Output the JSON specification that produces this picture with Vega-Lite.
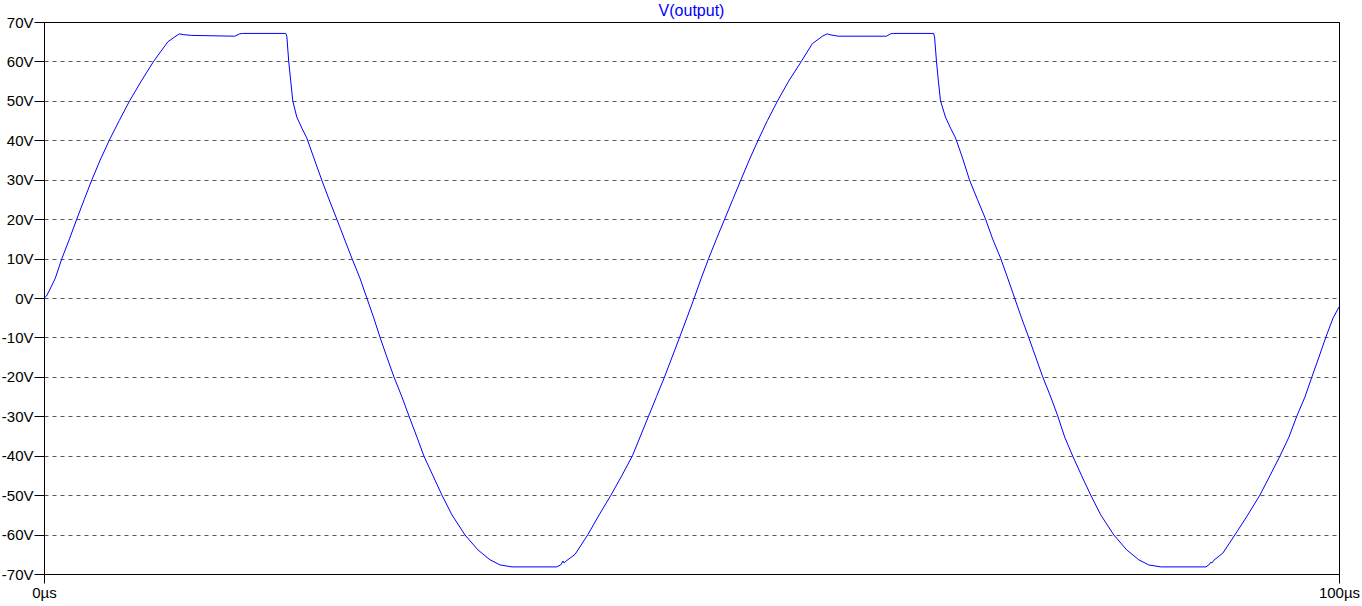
{
  "$schema": "https://vega.github.io/schema/vega-lite/v6.json",
  "autosize": "none",
  "width": 1295,
  "height": 552,
  "padding": {"left": 44, "top": 22, "right": 23, "bottom": 32},
  "background": "white",
  "title": {"text": "V(output)", "fontSize": 16, "font": "Liberation Sans", "fontWeight": "normal", "color": "#0000ff", "anchor": "middle", "offset": 5, "dy": 9},
  "config": {
    "view": {"stroke": "black", "strokeWidth": 1},
    "axis": {"labelFont": "Liberation Sans", "labelFontSize": 15, "labelColor": "black", "tickColor": "black", "domainColor": "black", "title": null}
  },
  "data": {"values": [
    {"t":0,"v":0},{"t":0.19,"v":0.5},{"t":0.43,"v":2.0},{"t":0.87,"v":5.0},{"t":1.38,"v":10.0},{"t":1.97,"v":15.0},{"t":2.53,"v":20.0},{"t":3.11,"v":25.0},{"t":3.70,"v":30.0},{"t":4.34,"v":35.0},{"t":5.04,"v":40.0},{"t":5.81,"v":45.0},{"t":6.61,"v":50.0},{"t":7.51,"v":55.0},{"t":8.46,"v":60.0},{"t":9.57,"v":65.0},{"t":10.09,"v":66.2},{"t":10.45,"v":67.0},{"t":10.75,"v":66.8},{"t":11.40,"v":66.6},{"t":14.73,"v":66.4},{"t":15.11,"v":67.0},{"t":15.34,"v":67.1},{"t":18.67,"v":67.1},{"t":18.75,"v":66.4},{"t":18.90,"v":59.9},{"t":19.06,"v":54.8},{"t":19.21,"v":50.0},{"t":19.52,"v":45.9},{"t":19.91,"v":43.1},{"t":20.29,"v":40.6},{"t":20.84,"v":35.5},{"t":21.45,"v":29.9},{"t":22.0,"v":25.1},{"t":22.61,"v":20.0},{"t":23.23,"v":14.7},{"t":23.77,"v":10.1},{"t":24.39,"v":5.1},{"t":24.93,"v":0},{"t":25.47,"v":-5.1},{"t":25.94,"v":-9.9},{"t":26.48,"v":-15.0},{"t":27.02,"v":-20.0},{"t":27.64,"v":-25.1},{"t":28.18,"v":-29.9},{"t":28.80,"v":-35.3},{"t":29.34,"v":-40.1},{"t":30.04,"v":-45.1},{"t":30.73,"v":-50.0},{"t":31.50,"v":-55.0},{"t":32.51,"v":-60.1},{"t":33.51,"v":-63.9},{"t":34.44,"v":-66.4},{"t":35.21,"v":-67.7},{"t":36.14,"v":-68.2},{"t":39.58,"v":-68.2},{"t":39.90,"v":-67.7},{"t":40.08,"v":-66.7},{"t":40.16,"v":-67.2},{"t":40.32,"v":-66.7},{"t":41.01,"v":-65.0},{"t":42.0,"v":-60.0},{"t":42.87,"v":-55.0},{"t":43.78,"v":-50.0},{"t":44.63,"v":-45.0},{"t":45.44,"v":-40.0},{"t":46.06,"v":-35.0},{"t":46.68,"v":-30.0},{"t":47.30,"v":-25.0},{"t":47.92,"v":-20.0},{"t":48.50,"v":-15.0},{"t":49.08,"v":-10.0},{"t":49.65,"v":-5.0},{"t":50.21,"v":0},{"t":50.75,"v":5.0},{"t":51.32,"v":10.0},{"t":51.93,"v":15.0},{"t":52.56,"v":20.0},{"t":53.19,"v":25.0},{"t":53.82,"v":30.0},{"t":54.46,"v":35.0},{"t":55.14,"v":40.0},{"t":55.86,"v":45.0},{"t":56.65,"v":50.0},{"t":57.50,"v":55.0},{"t":58.48,"v":60.0},{"t":59.33,"v":64.5},{"t":60.11,"v":66.4},{"t":60.48,"v":67.0},{"t":60.78,"v":66.7},{"t":61.34,"v":66.4},{"t":65.06,"v":66.4},{"t":65.37,"v":67.0},{"t":65.60,"v":67.1},{"t":68.69,"v":67.1},{"t":68.77,"v":66.2},{"t":68.92,"v":59.9},{"t":69.07,"v":54.8},{"t":69.23,"v":50.0},{"t":69.61,"v":45.9},{"t":70.0,"v":43.1},{"t":70.39,"v":40.6},{"t":70.93,"v":35.5},{"t":71.47,"v":29.9},{"t":72.09,"v":24.9},{"t":72.71,"v":20.0},{"t":73.25,"v":15.0},{"t":73.87,"v":10.1},{"t":74.41,"v":5.1},{"t":74.95,"v":0},{"t":75.49,"v":-5.1},{"t":76.03,"v":-9.9},{"t":76.58,"v":-15.0},{"t":77.12,"v":-20.0},{"t":77.74,"v":-25.1},{"t":78.28,"v":-29.9},{"t":78.82,"v":-35.3},{"t":79.44,"v":-40.1},{"t":80.13,"v":-45.1},{"t":80.83,"v":-50.0},{"t":81.60,"v":-55.0},{"t":82.61,"v":-60.1},{"t":83.61,"v":-63.9},{"t":84.54,"v":-66.4},{"t":85.31,"v":-67.7},{"t":86.24,"v":-68.2},{"t":89.72,"v":-68.2},{"t":89.95,"v":-67.7},{"t":90.10,"v":-67.0},{"t":90.18,"v":-67.2},{"t":90.34,"v":-66.5},{"t":91.03,"v":-64.7},{"t":91.96,"v":-60.1},{"t":92.96,"v":-55.0},{"t":93.89,"v":-50.0},{"t":94.66,"v":-45.1},{"t":95.44,"v":-40.1},{"t":96.13,"v":-35.3},{"t":96.75,"v":-29.9},{"t":97.37,"v":-25.1},{"t":97.91,"v":-20.0},{"t":98.45,"v":-15.0},{"t":98.99,"v":-9.9},{"t":99.54,"v":-5.1},{"t":100,"v":-2.3}
  ]},
  "mark": {"type": "line", "color": "#0000ff", "strokeWidth": 1, "interpolate": "linear"},
  "encoding": {
    "x": {"field": "t", "type": "quantitative",
      "scale": {"domain": [0, 100], "nice": false, "zero": false},
      "axis": {"values": [0, 100], "labelExpr": "datum.value + 'µs'", "grid": false, "domain": false, "tickSize": 9, "labelPadding": 2, "labelFlush": false}},
    "y": {"field": "v", "type": "quantitative",
      "scale": {"domain": [-70, 70], "nice": false},
      "axis": {"values": [-70,-60,-50,-40,-30,-20,-10,0,10,20,30,40,50,60,70], "labelExpr": "datum.value + 'V'", "grid": true,
        "gridColor": {"condition": {"test": "abs(datum.value) == 70", "value": "black"}, "value": "#555555"},
        "gridDash": {"condition": {"test": "abs(datum.value) == 70", "value": []}, "value": [4, 4]},
        "gridOpacity": 1, "domain": true, "tickSize": 10, "labelPadding": 1, "labelFlush": false}}
  }
}
